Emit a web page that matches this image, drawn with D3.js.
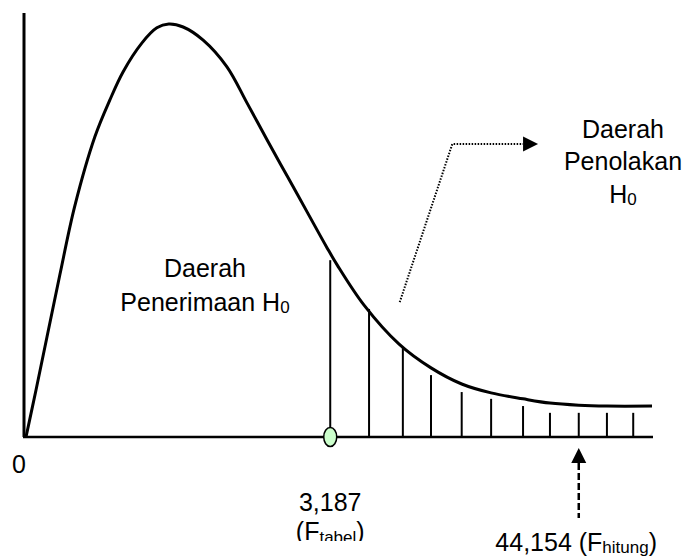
<!DOCTYPE html>
<html><head><meta charset="utf-8">
<script src="https://cdn.jsdelivr.net/npm/d3@7"></script>
<style>
body{margin:0;background:#fff}
svg{display:block;background:#fff}
text{font-family:"Liberation Sans",Arial,sans-serif;fill:#000}
</style>
</head><body>
<svg id="c" width="688" height="556"></svg>
<script>
// F-distribution sketch (schematic units 0..100 on both axes)
const curveX = [0, 1.6, 3.35, 5.4, 7.8, 11.0, 13.4, 15.5, 18.5, 20.9, 22.8, 25.1, 28.3, 32.1, 35.3, 38.5, 41.7, 44.9, 48.1, 49.7, 54.0, 59.6, 64.7, 69.6, 74.3, 79.4, 83.7, 88.3, 92.8, 100];
const curveY = [0, 11.1, 23.6, 38.2, 54.5, 70.8, 79.5, 86.1, 92.9, 96.5, 97.4, 96.7, 93.6, 87.3, 78.8, 70.1, 61.6, 53.1, 44.6, 40.6, 31.1, 21.9, 16.3, 12.5, 10.4, 9.0, 8.0, 7.5, 7.3, 7.3];
// rejection-region hatch lines
const hatchX = [48.6, 54.8, 60.2, 64.7, 69.6, 74.3, 79.4, 83.7, 88.3, 92.8, 97.0];
const hatchTop = [41.7, 30.2, 21.2, 14.6, 10.6, 9.0, 7.3, 5.7, 5.7, 5.7, 5.7];
const criticalValue = 48.6;   // F tabel = 3,187
const observedValue = 88.3;   // F hitung = 44,154
const originLabel = "0";
const criticalLabel = "3,187";
const observedLabel = "44,154";
const acceptLabel = ["Daerah", "Penerimaan H"];
const rejectLabel = ["Daerah", "Penolakan", "H"];

const svg = d3.select("#c");
const x = d3.scaleLinear().domain([0, 100]).range([26, 652]);
const y = d3.scaleLinear().domain([0, 100]).range([437, 13]);

// axes
svg.append("line").attr("x1", 24).attr("x2", 24).attr("y1", y(100)).attr("y2", y(0))
  .attr("stroke", "#000").attr("stroke-width", 3);
svg.append("line").attr("x1", 23).attr("x2", x(100) + 1).attr("y1", y(0)).attr("y2", y(0))
  .attr("stroke", "#000").attr("stroke-width", 2.5);

// hatch lines
svg.append("g").selectAll("line").data(hatchX).join("line")
  .attr("x1", d => x(d)).attr("x2", d => x(d))
  .attr("y1", y(0)).attr("y2", (d, i) => y(hatchTop[i]))
  .attr("stroke", "#000").attr("stroke-width", 2);

// density curve
const pts = curveX.map((d, i) => [d, curveY[i]]);
svg.append("path").datum(pts)
  .attr("d", d3.line().x(d => x(d[0])).y(d => y(d[1])).curve(d3.curveCatmullRom.alpha(0.5)))
  .attr("fill", "none").attr("stroke", "#000").attr("stroke-width", 3);

// critical point marker
svg.append("ellipse").attr("cx", x(criticalValue)).attr("cy", y(0))
  .attr("rx", 6.5).attr("ry", 9.5)
  .attr("fill", "#ccffcc").attr("stroke", "#000").attr("stroke-width", 1.5);

// dotted arrow to rejection label
const dotPts = [[59.7, 31.8], [68.1, 69.1], [79.4, 69.1]];
svg.append("path").datum(dotPts)
  .attr("d", d3.line().x(d => x(d[0])).y(d => y(d[1])))
  .attr("fill", "none").attr("stroke", "#000").attr("stroke-width", 2)
  .attr("stroke-dasharray", "1.5,1.5");
{
  const bx = x(79.4), by = y(69.1);
  svg.append("path").attr("d", `M${bx},${by - 7.5}L${bx + 15},${by}L${bx},${by + 7.5}Z`).attr("fill", "#000");
}

// dashed arrow from F hitung label
{
  const ax = x(observedValue);
  svg.append("line").attr("x1", ax).attr("x2", ax).attr("y1", 463).attr("y2", 518)
    .attr("stroke", "#000").attr("stroke-width", 2.5).attr("stroke-dasharray", "7,3");
  svg.append("path").attr("d", `M${ax},448L${ax + 7.5},463L${ax - 7.5},463Z`).attr("fill", "#000");
}

const fs = 25, sub = 17;

// labels
svg.append("text").attr("x", 19).attr("y", 473).attr("text-anchor", "middle")
  .attr("font-size", fs).text(originLabel);

const acc = svg.append("text").attr("text-anchor", "middle").attr("font-size", fs);
acc.append("tspan").attr("x", 205).attr("y", 277).text(acceptLabel[0]);
const accL2 = acc.append("tspan").attr("x", 205).attr("y", 311);
accL2.append("tspan").text(acceptLabel[1]);
accL2.append("tspan").attr("font-size", sub).attr("dy", 2).text("0");

const rej = svg.append("text").attr("text-anchor", "middle").attr("font-size", fs);
rej.append("tspan").attr("x", 623).attr("y", 138).text(rejectLabel[0]);
rej.append("tspan").attr("x", 623).attr("y", 170).text(rejectLabel[1]);
const rejL3 = rej.append("tspan").attr("x", 623).attr("y", 203);
rejL3.append("tspan").text(rejectLabel[2]);
rejL3.append("tspan").attr("font-size", sub).attr("dy", 2).text("0");

svg.append("text").attr("x", x(criticalValue)).attr("y", 511).attr("text-anchor", "middle")
  .attr("font-size", fs).text(criticalLabel);

svg.append("clipPath").attr("id", "clipB").append("rect")
  .attr("x", 0).attr("y", 0).attr("width", 688).attr("height", 541);
const ft = svg.append("text").attr("x", x(criticalValue)).attr("y", 540).attr("text-anchor", "middle")
  .attr("font-size", fs).attr("clip-path", "url(#clipB)");
ft.append("tspan").text("(F");
ft.append("tspan").attr("font-size", sub).attr("dy", 3).text("tabel");
ft.append("tspan").attr("dy", -3).text(")");

const fh = svg.append("text").attr("x", 657).attr("y", 551).attr("text-anchor", "end")
  .attr("font-size", fs);
fh.append("tspan").text(observedLabel + " (F");
fh.append("tspan").attr("font-size", sub).attr("dy", 2).text("hitung");
fh.append("tspan").attr("dy", -2).text(")");
</script>
</body></html>
